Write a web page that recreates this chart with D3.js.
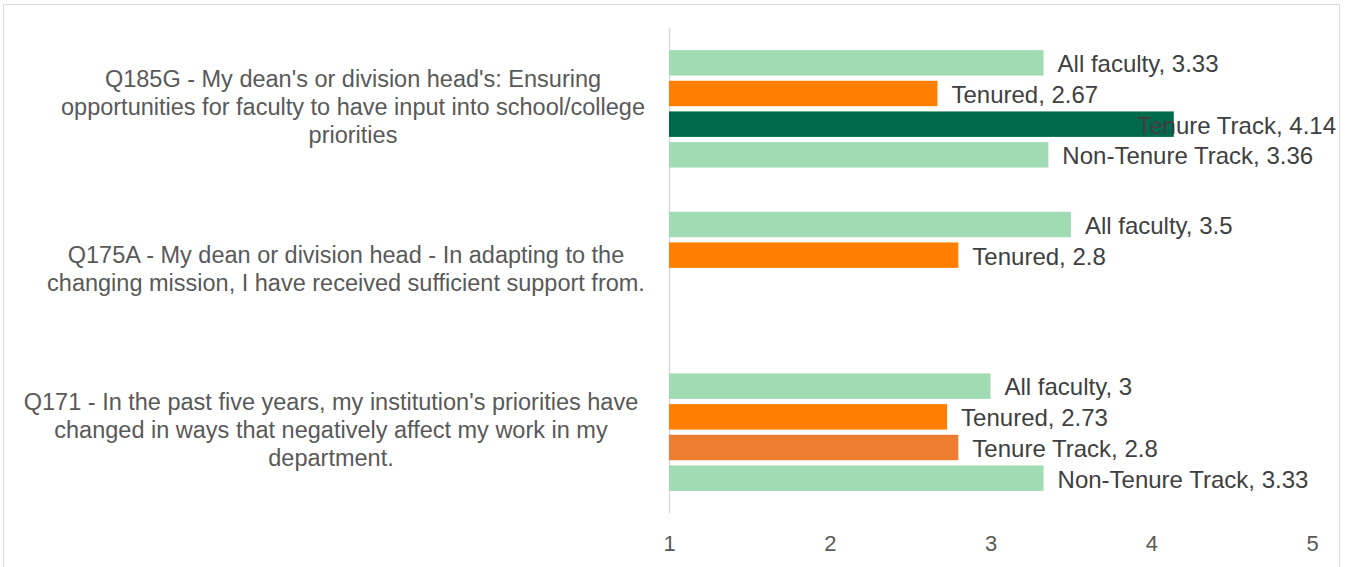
<!DOCTYPE html>
<html><head><meta charset="utf-8">
<script src="https://cdn.jsdelivr.net/npm/d3@7"></script>
<style>html,body{margin:0;padding:0;background:#fff;}svg{display:block;font-family:"Liberation Sans",Arial,sans-serif;}</style>
</head><body>
<svg id="c" width="1346" height="567"></svg>
<script>
const categories = [
  ["Q185G - My dean's or division head's: Ensuring", "opportunities for faculty to have input into school/college", "priorities"],
  ["Q175A - My dean or division head - In adapting to the", "changing mission, I have received sufficient support from."],
  ["Q171 - In the past five years, my institution's priorities have", "changed in ways that negatively affect my work in my", "department."]
];
const series = ["All faculty", "Tenured", "Tenure Track", "Non-Tenure Track"];
const values = [
  [3.33, 2.67, 4.14, 3.36],
  [3.5, 2.8, null, null],
  [3, 2.73, 2.8, 3.33]
];
const barColors = [
  ["#a0dbb3", "#ff8000", "#006a4a", "#a0dbb3"],
  ["#a0dbb3", "#ff8000", null, null],
  ["#a0dbb3", "#ff8000", "#ed7d31", "#a0dbb3"]
];
const ticks = [1, 2, 3, 4, 5];

const svg = d3.select("#c");
// outer border
svg.append("rect").attr("x", 3.5).attr("y", 4.5).attr("width", 1336).attr("height", 570)
  .attr("fill", "none").attr("stroke", "#d9d9d9").attr("stroke-width", 1);

const x = d3.scaleLinear().domain([1, 5]).range([669, 1312]);
const y0 = d3.scaleBand().domain(d3.range(categories.length)).range([28, 513]).padding(0);
const y1 = d3.scaleBand().domain(series).range([0, y0.bandwidth()]).paddingInner(0.17).paddingOuter(0.72);

// axis
const axis = d3.axisBottom(x).tickValues(ticks).tickSize(0).tickPadding(0).tickFormat(d3.format("d"));
const ax = svg.append("g").attr("transform", "translate(0,513)").call(axis);
ax.select(".domain").remove();
ax.selectAll("text").attr("dy", null).attr("y", 32).attr("dominant-baseline", "middle")
  .attr("font-size", 22).attr("fill", "#595959").attr("font-family", "Liberation Sans, Arial, sans-serif");

svg.append("line").attr("x1", x(1) + 0.5).attr("x2", x(1) + 0.5).attr("y1", 28).attr("y2", 513)
  .attr("stroke", "#d9d9d9").attr("stroke-width", 1.5);

const rows = [];
values.forEach((vals, ci) => vals.forEach((v, si) => {
  if (v != null) rows.push({ci, si, v, s: series[si], color: barColors[ci][si]});
}));

const g = svg.append("g");
g.selectAll("rect.bar").data(rows).enter().append("rect").attr("class", "bar")
  .attr("x", x(1)).attr("y", d => y0(d.ci) + y1(d.s))
  .attr("width", d => x(d.v) - x(1)).attr("height", y1.bandwidth())
  .attr("fill", d => d.color);

const labels = g.selectAll("text.lbl").data(rows).enter().append("text").attr("class", "lbl")
  .attr("y", d => y0(d.ci) + y1(d.s) + y1.bandwidth() / 2 + 3)
  .attr("dominant-baseline", "middle")
  .attr("font-size", 24).attr("fill", "#404040")
  .text(d => `${d.s}, ${d.v}`);
labels.each(function(d) {
  const w = this.getComputedTextLength();
  let lx = x(d.v) + 14;
  if (lx + w > 1336) lx = 1336 - w;
  d3.select(this).attr("x", lx);
});

// category labels
const centers = [353, 346, 331];
const cl = svg.append("g");
categories.forEach((lines, ci) => {
  const cy = y0(ci) + y0.bandwidth() / 2;
  const lh = 28;
  const t = cl.append("text").attr("text-anchor", "middle").attr("font-size", 23.5).attr("fill", "#595959");
  lines.forEach((ln, i) => {
    t.append("tspan").attr("x", centers[ci]).attr("y", cy + (i - (lines.length - 1) / 2) * lh)
      .attr("dominant-baseline", "middle").text(ln);
  });
});
</script>
</body></html>
